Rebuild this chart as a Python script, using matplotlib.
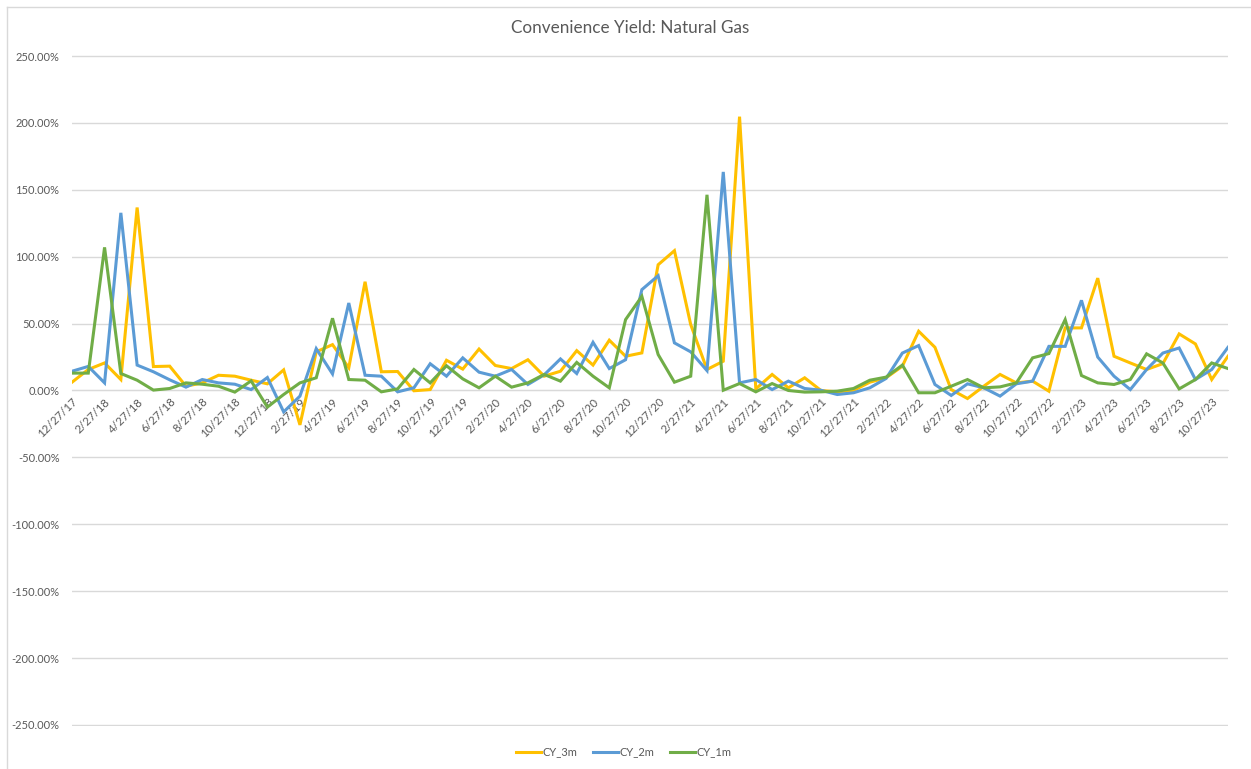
import matplotlib
matplotlib.use("Agg")
import matplotlib.pyplot as plt
from matplotlib.ticker import FuncFormatter, MultipleLocator
from matplotlib.lines import Line2D

# monthly convenience yields (%), one point per month starting 12/27/17
cy_3m = [6.2, 15.7, 20.6, 8.2, 136.8, 17.9, 18.2, 3.2, 5.7, 11.4, 10.7, 7.7,
         5.0, 15.4, -25.7, 28.9, 34.3, 17.0, 81.3, 14.0, 14.2, -0.2, 0.7, 22.6,
         16.0, 31.0, 18.7, 16.4, 23.0, 10.7, 14.4, 29.8, 19.0, 37.6, 25.6, 28.1,
         94.0, 104.5, 49.3, 15.7, 21.9, 204.7, 1.2, 12.0, 2.0, 9.5, 0.0, -1.0,
         0.0, 6.2, 9.5, 18.2, 44.3, 32.3, 0.7, -6.0, 3.2, 12.0, 5.7, 7.0,
         -0.5, 46.8, 46.8, 84.0, 25.6, 20.6, 15.7, 20.1, 42.3, 34.8, 8.2, 25.6]
cy_2m = [14.4, 18.0, 5.7, 132.8, 19.0, 14.0, 8.0, 2.5, 8.2, 5.7, 4.7, 0.7,
         9.7, -16.0, -4.2, 31.3, 12.4, 65.4, 11.4, 10.7, -1.0, 2.0, 20.0, 10.7,
         24.4, 13.7, 10.7, 15.7, 4.5, 11.7, 23.6, 12.7, 36.0, 16.4, 23.0, 75.4,
         85.8, 35.6, 28.9, 14.9, 163.4, 5.7, 8.2, 0.7, 7.0, 1.5, 0.2, -3.0,
         -1.7, 2.0, 9.0, 28.0, 33.6, 4.5, -3.7, 5.0, 2.0, -4.2, 5.0, 7.0,
         33.0, 33.0, 67.4, 25.0, 10.7, 0.7, 15.7, 28.0, 31.8, 8.2, 15.7, 32.3]
cy_1m = [13.0, 13.0, 107.0, 12.7, 7.7, 0.3, 1.5, 5.7, 4.7, 3.2, -1.2, 7.2,
         -12.4, -3.0, 5.7, 9.5, 54.0, 8.2, 7.7, -1.0, 1.2, 15.7, 5.7, 18.5,
         8.7, 2.0, 10.7, 2.5, 5.7, 12.0, 7.0, 21.0, 10.7, 2.0, 53.0, 70.4,
         26.9, 6.2, 10.7, 146.3, 0.2, 5.2, -1.0, 5.2, 0.0, -1.2, -1.0, -0.5,
         1.5, 7.7, 10.0, 19.0, -1.7, -1.7, 3.2, 8.2, 2.0, 2.7, 5.7, 24.4,
         27.6, 53.0, 11.2, 5.7, 4.5, 8.2, 27.4, 20.6, 1.2, 8.2, 20.6, 16.4]

# category labels m/27/yy
dates = []
y, m = 2017, 12
for _ in range(len(cy_3m)):
    dates.append(f"{m}/27/{y % 100:02d}")
    m += 1
    if m > 12:
        m, y = 1, y + 1

series = [("CY_3m", cy_3m, "#FFC000"),
          ("CY_2m", cy_2m, "#5B9BD5"),
          ("CY_1m", cy_1m, "#70AD47")]

W, H = 1251, 769
fig = plt.figure(figsize=(W / 100, H / 100), dpi=100)
plt.rcParams['font.family'] = ['Lato', 'DejaVu Sans']
ax = fig.add_axes([72 / W, 1 - 726 / H, (1228 - 72) / W, (726 - 55) / H])

x = list(range(len(dates)))
for name, vals, col in series:
    ax.plot(x, vals, color=col, lw=2.2, label=name, solid_joinstyle='miter')

ax.set_xlim(0, len(dates) - 1)
ax.set_ylim(-250.8, 250.8)
ax.set_yticks([v * 50 for v in range(-5, 6)])
ax.yaxis.set_major_formatter(FuncFormatter(lambda v, p: f"{v:.2f}%"))
ax.grid(axis='y', color='#D9D9D9', lw=1)
ax.set_axisbelow(True)

for s in ("top", "right", "left"):
    ax.spines[s].set_visible(False)
ax.spines['bottom'].set_position(('data', 0))
ax.spines['bottom'].set_color('#D9D9D9')
ax.spines['bottom'].set_zorder(0)

ax.set_xticks(x[::2])
ax.set_xticklabels(dates[::2], rotation=45, ha='right', rotation_mode='anchor')
ax.tick_params(axis='x', length=0, pad=4, labelsize=8.3, labelcolor='#595959')
ax.tick_params(axis='y', length=0, pad=9, labelsize=8, labelcolor='#595959')

fig.text(630 / W, 1 - 28 / H, "Convenience Yield: Natural Gas", ha='center',
         va='center', fontsize=12.3, color='#595959')

handles = [Line2D([], [], color=c, lw=2.2) for _, _, c in series]
fig.legend(handles, [n for n, _, _ in series], loc='center',
           bbox_to_anchor=(624 / W, 1 - 752 / H), ncol=3, frameon=False,
           fontsize=8, labelcolor='#595959', handlelength=2.2,
           handletextpad=0.2, columnspacing=1.4)

# chart area border
fig.add_artist(Line2D([7 / W, 7 / W], [0, 1 - 7 / H], color='#D9D9D9', lw=1))
fig.add_artist(Line2D([7 / W, 1], [1 - 7 / H, 1 - 7 / H], color='#D9D9D9', lw=1))

fig.savefig("out.png", dpi=100)
